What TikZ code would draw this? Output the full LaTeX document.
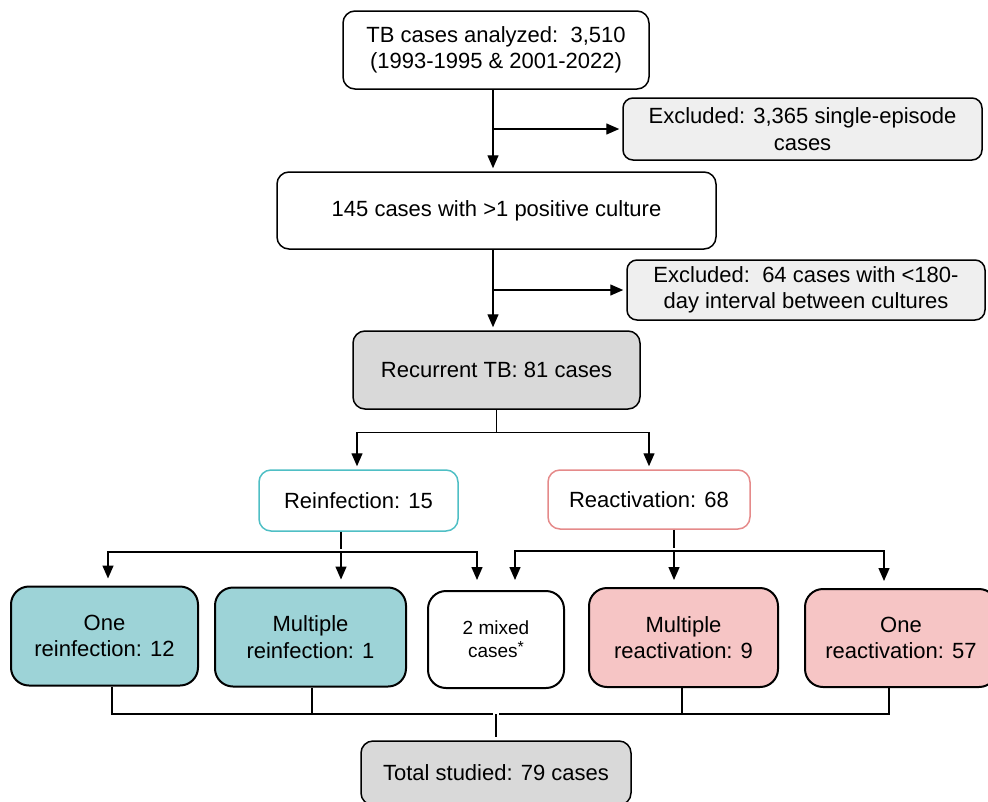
\documentclass[tikz,border=0pt]{standalone}
\usepackage{fontspec}
\setmainfont{Liberation Sans}
\usetikzlibrary{arrows.meta,positioning}

\definecolor{reinfline}{HTML}{4FBFC5}
\definecolor{reinffill}{HTML}{9DD3D7}
\definecolor{reactline}{HTML}{E58A8A}
\definecolor{reactfill}{HTML}{F6C5C5}
\definecolor{recgrey}{HTML}{D9D9D9}
\definecolor{exgrey}{HTML}{EFEFEF}

\begin{document}
\begin{tikzpicture}[x=1pt,y=-1pt,line width=1.4pt,
                    >={Triangle[length=13pt,width=11pt]},shorten >=3pt,
                    font=\fontsize{22}{26.5}\selectfont]
  \tikzstyle{box}=[draw,rounded corners=12pt,align=center,inner sep=0pt,line width=1.5pt]
  \tikzstyle{exbox}=[box,fill=exgrey,rounded corners=10pt]
  \tikzstyle{recbox}=[box,fill=recgrey]
  \tikzstyle{reinfbox}=[box,draw=reinfline,minimum width=199pt,minimum height=61pt]
  \tikzstyle{reactbox}=[box,draw=reactline,minimum width=202pt,minimum height=59pt]
  \tikzstyle{leaf}=[box,line width=2pt,rounded corners=18pt,minimum height=99pt]

  \useasboundingbox (0,0) rectangle (988,801);

  \node[box,minimum width=306pt,minimum height=78pt]   (cases) at (496,50)    {TB cases analyzed:\ \ 3,510\\(1993-1995 \& 2001-2022)};
  \node[exbox,minimum width=359pt,minimum height=62pt] (excl1) at (802.5,129) {Excluded: 3,365 single-episode\\cases};
  \node[box,minimum width=439pt,minimum height=77pt]   (pos)   at (496.5,210.5) {145 cases with >1 positive culture};
  \node[exbox,minimum width=358pt,minimum height=60pt] (excl2) at (806,290)   {Excluded:\ \ 64 cases with <180-\\day interval between cultures};
  \node[recbox,minimum width=287pt,minimum height=78pt] (recur) at (496.5,370) {Recurrent TB: 81 cases};

  \node[reinfbox] (reinf) at (358.5,500.5) {Reinfection: 15};
  \node[reactbox] (react) at (649,499.5)   {Reactivation: 68};

  \node[leaf,fill=reinffill,minimum width=187pt] (one1)  at (104.5,636) {One\\reinfection: 12};
  \node[leaf,fill=reinffill,minimum width=191pt] (mult1) at (310.5,637) {Multiple\\reinfection: 1};
  \node[leaf,minimum width=136pt,minimum height=97pt,font=\fontsize{19}{23}\selectfont]
                                                 (mix)   at (496,639.5) {2 mixed\\cases\raisebox{5pt}{\fontsize{16}{16}\selectfont*}};
  \node[leaf,fill=reactfill,minimum width=189pt] (mult2) at (683.5,637.5) {Multiple\\reactivation: 9};
  \node[leaf,fill=reactfill,minimum width=192pt,minimum height=98pt] (one2) at (901,638) {One\\reactivation: 57};

  \node[recbox,minimum width=270pt,minimum height=64pt] (total) at (496,773) {Total studied: 79 cases};

  \coordinate (trunk) at (493,0);
  \coordinate (rein) at (341,552);
  \coordinate (reac) at (674,551);
  \coordinate (join) at (496,714);

  \draw[->] (trunk |- cases.south) -- (trunk |- pos.north);
  \draw[->] (trunk |- excl1.west) -- (excl1.west);
  \draw[->] (trunk |- pos.south) -- (trunk |- recur.north);
  \draw[->] (trunk |- excl2.west) -- (excl2.west);

  \draw[->] (recur.south) -- ++(0,23) -| ([xshift=-1.5pt]reinf.north);
  \draw[->] (recur.south) -- ++(0,23) -| (react.north);

  \draw (rein |- reinf.south) -- (rein);
  \draw[->,shorten >=7pt] (rein) -| ([xshift=3.5pt]one1.north);
  \draw[->,shorten >=7pt] (rein) -- (rein |- mult1.north);
  \draw[->,shorten >=10pt] (rein) -| ([xshift=-19pt]mix.north);

  \draw (reac |- react.south) -- (reac);
  \draw[->,shorten >=10pt] (reac) -| ([xshift=19pt]mix.north);
  \draw[->,shorten >=7pt] (reac) -- (reac |- mult2.north);
  \draw[->,shorten >=7pt] (reac) -| ([xshift=-17pt]one2.north);

  \draw ([xshift=7.5pt]one1.south) |- (join);
  \draw ([xshift=1.5pt]mult1.south) |- (join);
  \draw ([xshift=-1.5pt]mult2.south) |- (join);
  \draw ([xshift=-12pt]one2.south) |- (join);
  \draw (join) -- (total.north);
\end{tikzpicture}
\end{document}
